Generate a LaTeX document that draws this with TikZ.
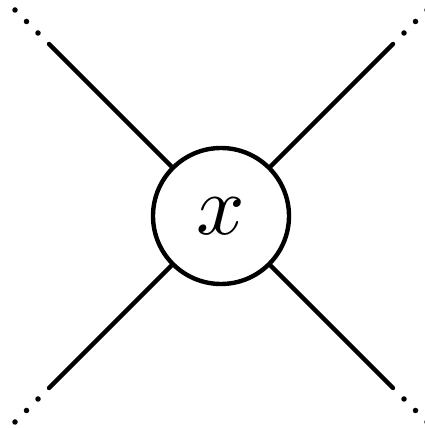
\documentclass[tikz,border=0pt]{standalone}
\usetikzlibrary{calc}
\begin{document}
\begin{tikzpicture}[x=1pt,y=1pt,
  leg/.style={line width=4.4pt,line cap=round},
  dotmark/.style={fill=black,circle,inner sep=0pt,minimum size=5.5pt}]
\useasboundingbox (0,0) rectangle (424,428);
\node[circle,draw,line width=4.4pt,minimum size=136pt,inner sep=0pt] (c) at (221,212) {\scalebox{8.5}{$x$}};
\foreach \n/\sx/\sy in {tl/-1/1,tr/1/1,bl/-1/-1,br/1/-1}{
  \coordinate (\n) at ($(221,212)+(\sx*172,\sy*172)$);
  \draw[leg] (c) -- (\n);
  \foreach \d in {183,194.5,206}{
    \node[dotmark] at ($(221,212)+(\sx*\d,\sy*\d)$) {};
  }
}
\end{tikzpicture}
\end{document}
